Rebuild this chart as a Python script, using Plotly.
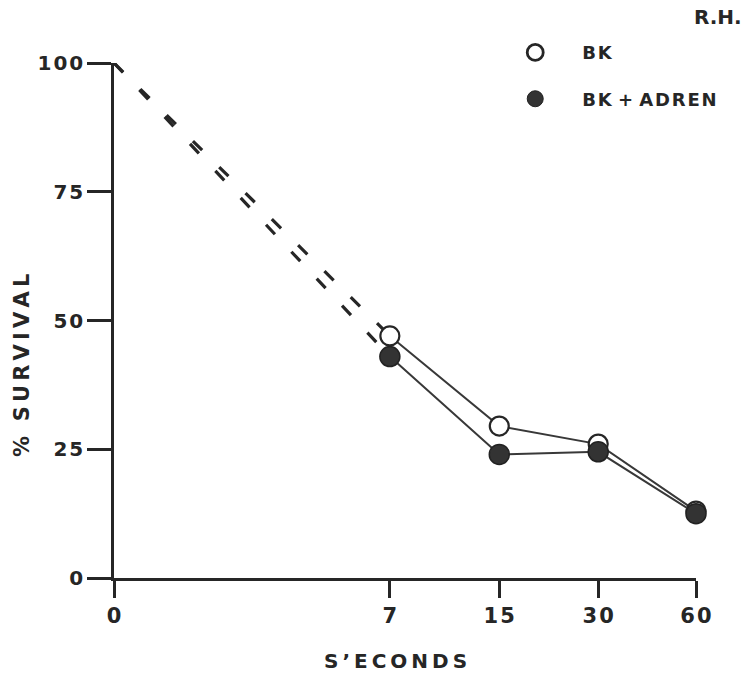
import plotly.graph_objects as go

# Data
seconds = [7, 15, 30, 60]
bk = [47, 29.5, 26, 13]
bk_adren = [43, 24, 24.5, 12.5]
x_tick_labels = ["0", "7", "15", "30", "60"]
y_tick_values = [0, 25, 50, 75, 100]
# position of each time point on the (non-uniform) drawn time axis
axis_pos = [0, 4.74, 6.62, 8.32, 10.0]

pos_of = dict(zip([0] + seconds, axis_pos))
xs = [pos_of[s] for s in seconds]


def spaced(s, sep="\u200a"):
    return sep.join(s)


INK = "#262626"
FONT = "DejaVu Sans, Liberation Sans, sans-serif"

fig = go.Figure()

# extrapolated dashed lines back to 100% at time 0
for start_val in (bk[0], bk_adren[0]):
    fig.add_trace(go.Scatter(
        x=[pos_of[0], xs[0]], y=[100, start_val], mode="lines",
        line=dict(color=INK, width=3.2, dash="13px,24px"),
        showlegend=False, hoverinfo="skip", cliponaxis=False))

fig.add_trace(go.Scatter(
    x=xs, y=bk, mode="lines+markers", name="BK",
    line=dict(color="#383838", width=2),
    marker=dict(symbol="circle", size=19, color="white",
                line=dict(color=INK, width=2.2)),
    showlegend=False, cliponaxis=False))
fig.add_trace(go.Scatter(
    x=xs, y=bk_adren, mode="lines+markers", name="BK + ADREN",
    line=dict(color="#383838", width=2),
    marker=dict(symbol="circle", size=20, color="#333333",
                line=dict(color="#222222", width=1.5)),
    showlegend=False, cliponaxis=False))

# legend entries
fig.add_trace(go.Scatter(
    x=[None], y=[None], mode="markers", name=spaced("BK"),
    marker=dict(symbol="circle", size=19, color="white",
                line=dict(color=INK, width=2.8)),
    legend="legend"))
fig.add_trace(go.Scatter(
    x=[None], y=[None], mode="markers", name=spaced("BK") + " + " + spaced("ADREN"),
    marker=dict(symbol="circle", size=21, color="#333333",
                line=dict(color="#222222", width=1)),
    legend="legend2"))

legend_common = dict(font=dict(family=FONT, size=18, color=INK, weight="bold"),
                     bgcolor="rgba(0,0,0,0)", itemsizing="trace",
                     xanchor="left", yanchor="middle", itemwidth=84)

fig.update_layout(
    width=753, height=680,
    margin=dict(l=114, r=57, t=63, b=102),
    plot_bgcolor="white", paper_bgcolor="white",
    font=dict(family=FONT, color=INK),
    legend=dict(x=0.643, y=1.02, **legend_common),
    legend2=dict(x=0.643, y=0.93, **legend_common),
    xaxis=dict(
        range=[0, 10], tickmode="array", tickvals=axis_pos,
        ticktext=[spaced(t) for t in x_tick_labels],
        showgrid=False, zeroline=False, showline=True, linecolor=INK, linewidth=2.5,
        ticks="outside", ticklen=17, tickwidth=2.5, tickcolor=INK,
        tickfont=dict(family=FONT, size=21, color=INK, weight="bold"),
    ),
    yaxis=dict(
        range=[0, 100], tickmode="array", tickvals=y_tick_values,
        ticktext=[spaced(str(v)) for v in y_tick_values],
        showgrid=False, zeroline=False, showline=True, linecolor=INK, linewidth=2.5,
        ticks="outside", ticklen=24, tickwidth=2.5, tickcolor=INK,
        tickfont=dict(family=FONT, size=20, color=INK, weight="bold"),
    ),
    annotations=[
        dict(text="R.H.", xref="paper", yref="paper", x=1.038, y=1.089,
             xanchor="center", yanchor="middle", showarrow=False,
             font=dict(family=FONT, size=20, color=INK, weight="bold")),
        dict(text=spaced("S\u2019ECONDS", "\u2009"), xref="paper", yref="paper",
             x=0.4845, y=-0.161, xanchor="center", yanchor="middle", showarrow=False,
             font=dict(family=FONT, size=20, color=INK, weight="bold")),
        dict(text="%  " + spaced("SURVIVAL", "\u2009"), xref="paper", yref="paper",
             x=-0.158, y=0.4117, xanchor="center", yanchor="middle", showarrow=False,
             textangle=-90,
             font=dict(family=FONT, size=21, color=INK, weight="bold")),
    ],
)

fig.write_html("out.html")
